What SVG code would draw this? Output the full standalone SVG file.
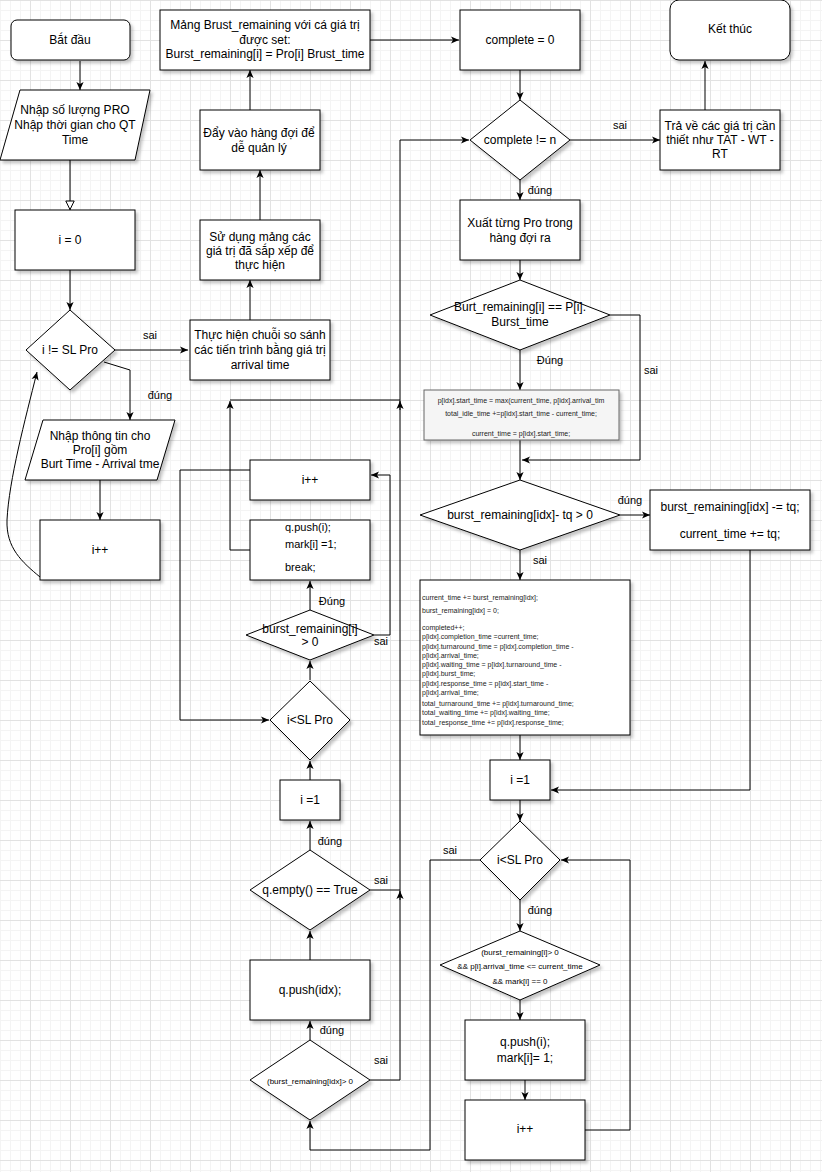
<svg xmlns="http://www.w3.org/2000/svg" width="822" height="1172" viewBox="0 0 822 1172">
<style>
.n{fill:#fff;stroke:#000;stroke-width:1;filter:url(#sh)}
.g{fill:#f5f5f5;stroke:#666;stroke-width:1;filter:url(#sh)}
.t{font-family:"Liberation Sans",Arial,sans-serif;font-size:12px;fill:#000;text-anchor:middle;dominant-baseline:central}
.s{font-family:"Liberation Sans",Arial,sans-serif;font-size:7px;fill:#222;dominant-baseline:central}
.m{font-family:"Liberation Sans",Arial,sans-serif;font-size:8px;fill:#000;text-anchor:middle;dominant-baseline:central}
.l{font-family:"Liberation Sans",Arial,sans-serif;font-size:11px;fill:#000;text-anchor:middle;dominant-baseline:central}
.ls{font-family:"Liberation Sans",Arial,sans-serif;font-size:11px;fill:#000;text-anchor:start;dominant-baseline:central}
.e{fill:none;stroke:#000;stroke-width:1;marker-end:url(#a)}
.e0{fill:none;stroke:#000;stroke-width:1}
</style>
<defs>
<pattern id="grid" x="30" y="0" width="40" height="40" patternUnits="userSpaceOnUse">
<rect width="40" height="40" fill="#fff"/>
<path d="M10.5,0V40M20.5,0V40M30.5,0V40M0,10.5H40M0,20.5H40M0,30.5H40" stroke="#f4f4f4" stroke-width="1"/>
<path d="M0.5,0V40M0,0.5H40" stroke="#e2e2e2" stroke-width="1"/>
</pattern>
<filter id="sh" x="-10%" y="-10%" width="130%" height="130%">
<feDropShadow dx="2.5" dy="3" stdDeviation="1.5" flood-color="#000" flood-opacity="0.22"/>
</filter>
<marker id="a" viewBox="0 0 10 10" refX="10" refY="5" markerWidth="8" markerHeight="8" markerUnits="userSpaceOnUse" orient="auto">
<path d="M0,0.5 L10,5 L0,9.5 L2.5,5 z" fill="#000"/>
</marker>
<marker id="h" viewBox="0 0 10 10" refX="10" refY="5" markerWidth="10" markerHeight="10" markerUnits="userSpaceOnUse" orient="auto">
<path d="M1,0.8 L9.6,5 L1,9.2 z" fill="#fff" stroke="#000" stroke-width="1"/>
</marker>
</defs>
<rect width="822" height="1172" fill="url(#grid)"/>

<g id="connectors">
<path class="e" d="M80,61V90"/>
<path class="e0" d="M70,160V210" style="marker-end:url(#h)"/>
<path class="e" d="M70,270V310"/>
<path class="e" d="M115,350H188"/>
<path class="e" d="M104,362L130,370V420"/>
<path class="e" d="M100,480V520"/>
<path class="e" d="M40,577C22,562 6,548 7,520C9,480 25,420 37,372"/>
<path class="e" d="M250,320V280"/>
<path class="e" d="M260,220V170"/>
<path class="e" d="M250,110V70"/>
<path class="e" d="M370,40H459"/>
<path class="e" d="M520,70V100"/>
<path class="e" d="M570,140H660"/>
<path class="e" d="M705,110V61"/>
<path class="e" d="M520,180V200"/>
<path class="e" d="M520,260V280"/>
<path class="e" d="M520,350V390"/>
<path class="e" d="M610,315H640V460H522"/>
<path class="e" d="M520,440V480"/>
<path class="e" d="M620,515H650"/>
<path class="e" d="M520,550V580"/>
<path class="e" d="M520,735V760"/>
<path class="e" d="M750,550V790H551"/>
<path class="e" d="M520,800V821"/>
<path class="e" d="M520,900V931"/>
<path class="e" d="M520,1000V1020"/>
<path class="e" d="M525,1080V1100"/>
<path class="e" d="M585,1130H630V860H561"/>
<path class="e" d="M480,860H430V1150H310V1121"/>
<path class="e" d="M310,1040V1021"/>
<path class="e" d="M310,960V931"/>
<path class="e" d="M310,850V821"/>
<path class="e" d="M310,780V761"/>
<path class="e" d="M310,680V661"/>
<path class="e" d="M310,610V581"/>
<path class="e" d="M374,635H390V475H371"/>
<path class="e" d="M250,470H180V720H269"/>
<path class="e" d="M250,550H230V401"/>
<path class="e0" d="M230,400H400"/>
<path class="e" d="M400,410V401"/>
<path class="e0" d="M370,890H400"/>
<path class="e" d="M400,900V891"/>
<path class="e" d="M370,1080H400V140H469"/>
<text class="l" x="150" y="335">sai</text>
<text class="l" x="160" y="395">đúng</text>
<text class="l" x="620" y="125">sai</text>
<text class="l" x="540" y="190">đúng</text>
<text class="l" x="550" y="360">Đúng</text>
<text class="l" x="651" y="370">sai</text>
<text class="l" x="630" y="500">đúng</text>
<text class="l" x="540" y="560">sai</text>
<text class="l" x="450" y="850">sai</text>
<text class="l" x="540" y="910">đúng</text>
<text class="l" x="332" y="601">Đúng</text>
<text class="l" x="381" y="641">sai</text>
<text class="l" x="330" y="841">đúng</text>
<text class="l" x="381" y="880">sai</text>
<text class="l" x="332" y="1030">đúng</text>
<text class="l" x="381" y="1060">sai</text>
</g>

<g id="start"><rect class="n" x="11" y="20" width="119" height="40" rx="6"/><text class="t" x="70" y="40">Bắt đầu</text></g>
<g id="input1"><polygon class="n" points="20,90 150,90 135,160 0,160"/><text class="t" x="75" y="110">Nhập số lượng PRO</text><text class="t" x="75" y="125">Nhập thời gian cho QT</text><text class="t" x="75" y="140">Time</text></g>
<g id="init"><rect class="n" x="15" y="210" width="120" height="60"/><text class="t" x="70" y="240">i = 0</text></g>
<g id="cond1"><polygon class="n" points="70,310 115,350 70,390 26,350"/><text class="t" x="70" y="350">i != SL Pro</text></g>
<g id="input2"><polygon class="n" points="43,420 175,420 157,480 25,480"/><text class="t" x="100" y="436">Nhập thông tin cho</text><text class="t" x="100" y="450">Pro[i] gồm</text><text class="t" x="100" y="464">Burt Time - Arrival tme</text></g>
<g id="inc1"><rect class="n" x="40" y="520" width="120" height="60"/><text class="t" x="100" y="550">i++</text></g>

<g id="sort"><rect class="n" x="190" y="320" width="140" height="60"/><text class="t" x="260" y="335">Thực hiện chuỗi so sánh</text><text class="t" x="260" y="350">các tiến trình bằng giá trị</text><text class="t" x="260" y="365">arrival time</text></g>
<g id="use"><rect class="n" x="200" y="220" width="120" height="60"/><text class="t" x="260" y="237">Sử dụng mảng các</text><text class="t" x="260" y="251">giá trị đã sắp xếp để</text><text class="t" x="260" y="265">thực hiện</text></g>
<g id="queue"><rect class="n" x="200" y="110" width="120" height="60"/><text class="t" x="259" y="133">Đẩy vào hàng đợi để</text><text class="t" x="259" y="148">dễ quản lý</text></g>
<g id="array"><rect class="n" x="160" y="10" width="210" height="60"/><text class="t" x="265" y="25">Mảng Brust_remaining với cá giá trị</text><text class="t" x="265" y="40">được set:</text><text class="t" x="265" y="54">Burst_remaining[i] = Pro[i] Brust_time</text></g>

<g id="complete0"><rect class="n" x="460" y="10" width="120" height="60"/><text class="t" x="520" y="40">complete = 0</text></g>
<g id="cond2"><polygon class="n" points="520,100 570,140 520,180 470,140"/><text class="t" x="520" y="140">complete != n</text></g>
<g id="ret"><rect class="n" x="660" y="110" width="120" height="60"/><text class="t" x="720" y="126">Trả về các giá trị cần</text><text class="t" x="720" y="140">thiết như TAT - WT -</text><text class="t" x="720" y="154">RT</text></g>
<g id="end"><rect class="n" x="670" y="0" width="120" height="60" rx="9"/><text class="t" x="730" y="29">Kết thúc</text></g>
<g id="pop"><rect class="n" x="460" y="200" width="120" height="60"/><text class="t" x="520" y="223">Xuất từng Pro trong</text><text class="t" x="520" y="238">hàng đợi ra</text></g>
<g id="cond3"><polygon class="n" points="520,280 610,315 520,350 430,315"/><text class="t" x="520" y="307">Burt_remaining[i] == P[i].</text><text class="t" x="520" y="322">Burst_time</text></g>
<g id="startbox"><rect class="g" x="424" y="390" width="195" height="50"/>
<text class="s" x="521" y="400" text-anchor="middle">p[idx].start_time = max(current_time, p[idx].arrival_tim</text>
<text class="s" x="521" y="413" text-anchor="middle">total_idle_time +=p[idx].start_time - current_time;</text>
<text class="s" x="521" y="433" text-anchor="middle">current_time = p[idx].start_time;</text></g>
<g id="cond4"><polygon class="n" points="520,480 620,515 520,550 420,515"/><text class="t" x="520" y="515">burst_remaining[idx]- tq &gt; 0</text></g>
<g id="tqbox"><rect class="n" x="650" y="490" width="160" height="60"/><text class="t" x="730" y="507">burst_remaining[idx] -= tq;</text><text class="t" x="730" y="534">current_time += tq;</text></g>
<g id="donebox"><rect class="n" x="420" y="580" width="210" height="155"/>
<text class="s" x="422" y="597">current_time += burst_remaining[idx];</text>
<text class="s" x="422" y="610">burst_remaining[idx] = 0;</text>
<text class="s" x="422" y="627">completed++;</text>
<text class="s" x="422" y="636">p[idx].completion_time =current_time;</text>
<text class="s" x="422" y="646">p[idx].turnaround_time = p[idx].completion_time -</text>
<text class="s" x="422" y="655">p[idx].arrival_time;</text>
<text class="s" x="422" y="664">p[idx].waiting_time = p[idx].turnaround_time -</text>
<text class="s" x="422" y="673">p[idx].burst_time;</text>
<text class="s" x="422" y="683">p[idx].response_time = p[idx].start_time -</text>
<text class="s" x="422" y="692">p[idx].arrival_time;</text>
<text class="s" x="422" y="703">total_turnaround_time += p[idx].turnaround_time;</text>
<text class="s" x="422" y="712">total_waiting_time += p[idx].waiting_time;</text>
<text class="s" x="422" y="722">total_response_time += p[idx].response_time;</text></g>
<g id="i1right"><rect class="n" x="490" y="760" width="60" height="40"/><text class="t" x="520" y="780">i =1</text></g>
<g id="cond5"><polygon class="n" points="520,821 560,860 520,900 480,860"/><text class="t" x="520" y="860">i&lt;SL Pro</text></g>
<g id="cond6"><polygon class="n" points="520,931 600,965 520,1000 440,965"/><text class="m" x="520" y="952">(burst_remaining[i]&gt; 0</text><text class="m" x="520" y="966">&amp;&amp; p[i].arrival_time &lt;= current_time</text><text class="m" x="520" y="981">&amp;&amp; mark[i] == 0</text></g>
<g id="push2"><rect class="n" x="465" y="1020" width="120" height="60"/><text class="t" x="525" y="1042">q.push(i);</text><text class="t" x="525" y="1058">mark[i]= 1;</text></g>
<g id="inc3"><rect class="n" x="465" y="1100" width="120" height="60"/><text class="t" x="525" y="1129">i++</text></g>

<g id="cond7"><polygon class="n" points="310,1040 370,1080 310,1120 250,1080"/><text class="m" x="310" y="1081">(burst_remaining[idx]&gt; 0</text></g>
<g id="pushidx"><rect class="n" x="250" y="960" width="120" height="60"/><text class="t" x="310" y="990">q.push(idx);</text></g>
<g id="cond8"><polygon class="n" points="310,850 370,890 310,930 250,890"/><text class="t" x="310" y="890">q.empty() == True</text></g>
<g id="i1mid"><rect class="n" x="280" y="780" width="60" height="40"/><text class="t" x="310" y="800">i =1</text></g>
<g id="cond9"><polygon class="n" points="310,681 350,720 310,760 270,720"/><text class="t" x="310" y="720">i&lt;SL Pro</text></g>
<g id="cond10"><polygon class="n" points="310,610 374,635 310,660 246,635"/><text class="t" x="310" y="629">burst_remaining[i]</text><text class="t" x="310" y="642">&gt; 0</text></g>
<g id="pushbreak"><rect class="n" x="250" y="520" width="120" height="60"/><text class="ls" x="285" y="527">q.push(i);</text><text class="ls" x="285" y="544">mark[i] =1;</text><text class="ls" x="285" y="567">break;</text></g>
<g id="inc2"><rect class="n" x="250" y="460" width="120" height="40"/><text class="t" x="310" y="480">i++</text></g>
</svg>
